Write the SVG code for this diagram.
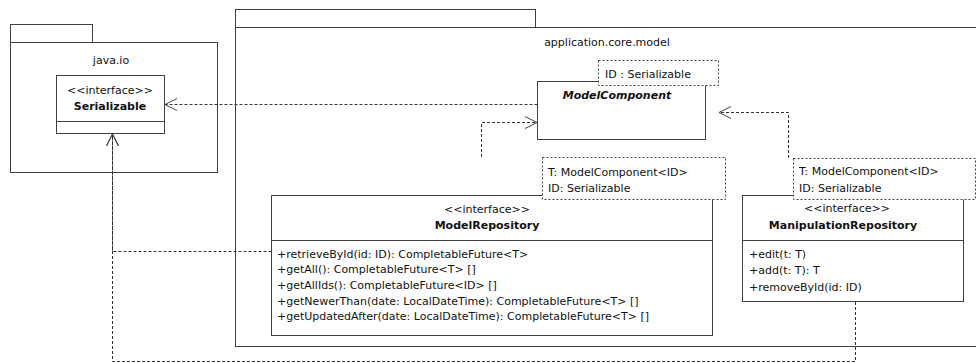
<svg xmlns="http://www.w3.org/2000/svg" width="976" height="363" viewBox="0 0 976 363">
  <style>
    .pkg { fill: #ffffff; stroke: #404040; stroke-width: 1; }
    .box { fill: #ffffff; stroke: #404040; stroke-width: 1; }
    .tpl { fill: #ffffff; stroke: #404040; stroke-width: 1; stroke-dasharray: 2 2; }
    .dep { fill: none; stroke: #333333; stroke-width: 1; stroke-dasharray: 3 2; }
    text { font-family: "DejaVu Sans", Verdana, sans-serif; font-size: 11px; fill: #111111; }
    .b { font-weight: bold; }
    .bi { font-weight: bold; font-style: italic; }
    .mid { text-anchor: middle; }
  </style>
  <defs>
    <marker id="open" viewBox="0 0 14 14" refX="13" refY="7" markerWidth="14" markerHeight="14" markerUnits="userSpaceOnUse" orient="auto">
      <path d="M1,1 L13,7 L1,13" fill="none" stroke="#404040" stroke-width="1"/>
    </marker>
  </defs>

  <!-- package java.io -->
  <g id="pkg-java-io">
    <rect class="pkg" x="10.5" y="24.5" width="82" height="18"/>
    <rect class="pkg" x="10.5" y="42.5" width="207" height="130"/>
    <text class="mid" x="111" y="64">java.io</text>
  </g>

  <!-- package application.core.model -->
  <g id="pkg-application-core-model">
    <rect class="pkg" x="235.5" y="9.5" width="300" height="18"/>
    <rect class="pkg" x="235.5" y="27.5" width="780" height="319"/>
    <text class="mid" x="607" y="46">application.core.model</text>
  </g>

  <!-- interface Serializable -->
  <g id="Serializable">
    <rect class="box" x="56.5" y="75.5" width="108" height="58"/>
    <line x1="56.5" y1="121.5" x2="164.5" y2="121.5" stroke="#404040"/>
    <text class="mid" x="110" y="94">&lt;&lt;interface&gt;&gt;</text>
    <text class="mid b" x="110" y="110">Serializable</text>
  </g>

  <!-- abstract class ModelComponent -->
  <g id="ModelComponent">
    <rect class="box" x="537.5" y="81.5" width="168" height="58"/>
    <text class="mid bi" x="617" y="99">ModelComponent</text>
    <rect class="tpl" x="598.5" y="60.5" width="120" height="25"/>
    <text x="605" y="78">ID : Serializable</text>
  </g>

  <!-- interface ModelRepository -->
  <g id="ModelRepository">
    <rect class="box" x="271.5" y="195.5" width="441" height="140"/>
    <line x1="271.5" y1="240.5" x2="712.5" y2="240.5" stroke="#404040"/>
    <text class="mid" x="487" y="213">&lt;&lt;interface&gt;&gt;</text>
    <text class="mid b" x="487" y="229">ModelRepository</text>
    <text x="277" y="257.5">+retrieveById(id: ID): CompletableFuture&lt;T&gt;</text>
    <text x="277" y="273">+getAll(): CompletableFuture&lt;T&gt; []</text>
    <text x="277" y="289">+getAllIds(): CompletableFuture&lt;ID&gt; []</text>
    <text x="277" y="304.5">+getNewerThan(date: LocalDateTime): CompletableFuture&lt;T&gt; []</text>
    <text x="277" y="320">+getUpdatedAfter(date: LocalDateTime): CompletableFuture&lt;T&gt; []</text>
    <rect class="tpl" x="542.5" y="157.5" width="183" height="42"/>
    <text x="548" y="175.5">T: ModelComponent&lt;ID&gt;</text>
    <text x="548" y="191.5">ID: Serializable</text>
  </g>

  <!-- interface ManipulationRepository -->
  <g id="ManipulationRepository">
    <rect class="box" x="742.5" y="195.5" width="221" height="106"/>
    <line x1="742.5" y1="240.5" x2="963.5" y2="240.5" stroke="#404040"/>
    <text class="mid" x="847" y="212">&lt;&lt;interface&gt;&gt;</text>
    <text class="mid b" x="843" y="229">ManipulationRepository</text>
    <text x="749" y="258">+edit(t: T)</text>
    <text x="749" y="274">+add(t: T): T</text>
    <text x="749" y="290.5">+removeById(id: ID)</text>
    <rect class="tpl" x="793.5" y="158.5" width="182" height="41"/>
    <text x="799" y="175">T: ModelComponent&lt;ID&gt;</text>
    <text x="799" y="191.5">ID: Serializable</text>
  </g>

  <!-- dependencies -->
  <g id="connectors">
    <path class="dep" d="M537.5,104.5 L165,104.5" marker-end="url(#open)"/>
    <path class="dep" d="M481.5,157 L481.5,122.5 L537,122.5" marker-end="url(#open)"/>
    <path class="dep" d="M788.5,158 L788.5,112.5 L719,112.5" marker-end="url(#open)"/>
    <path class="dep" d="M271.5,251.5 L112.5,251.5 L112.5,134" marker-end="url(#open)"/>
    <path class="dep" d="M855.5,302 L855.5,361.5 L112.5,361.5 L112.5,134" marker-end="url(#open)"/>
  </g>
</svg>
